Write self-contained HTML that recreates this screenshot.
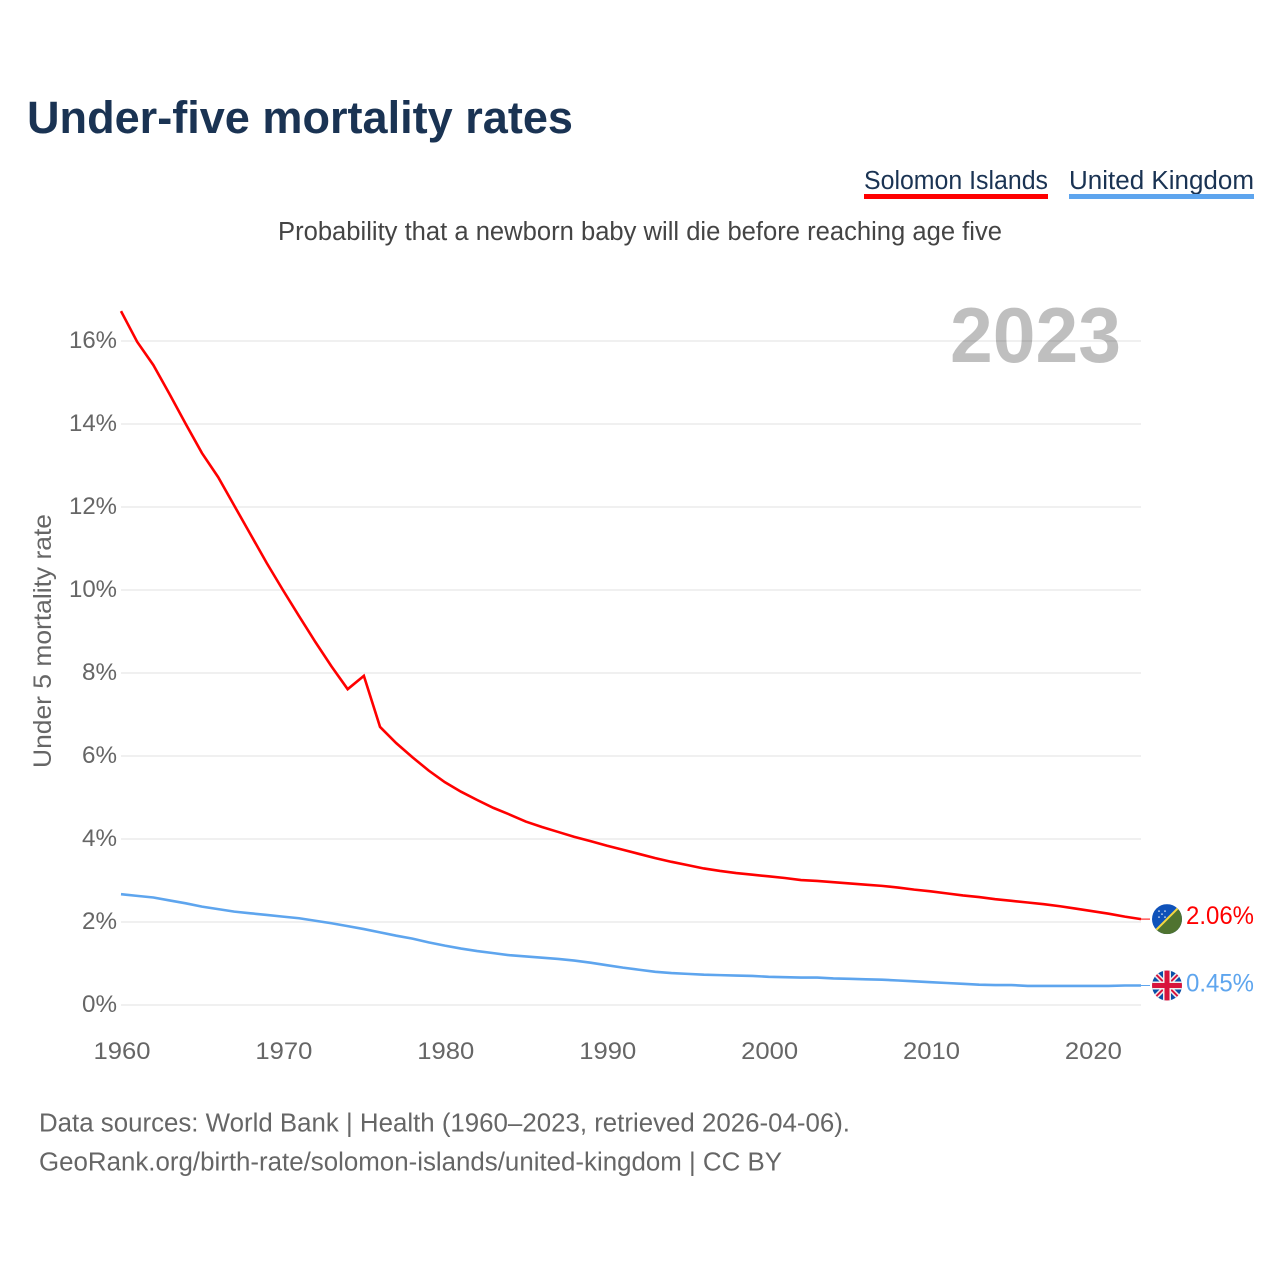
<!DOCTYPE html>
<html lang="en">
<head>
<meta charset="utf-8">
<title>Under-five mortality rates</title>
<style>
html,body{margin:0;padding:0;background:#fff;width:1280px;height:1280px;overflow:hidden}
svg{display:block;font-family:"Liberation Sans",sans-serif}
</style>
</head>
<body>
<svg id="chart" xmlns="http://www.w3.org/2000/svg" width="1280" height="1280" viewBox="0 0 1280 1280">
  <defs>
    <clipPath id="flag-clip"><circle cx="0" cy="0" r="15"></circle></clipPath>
  </defs>
  <rect x="0" y="0" width="1280" height="1280" fill="#ffffff"></rect>

  <text x="27" y="133" font-size="45" font-weight="700" fill="#1a3353" textLength="546" lengthAdjust="spacingAndGlyphs">Under-five mortality rates</text>

  <g>
    <text x="864" y="189" font-size="25.5" fill="#1a3353" textLength="184" lengthAdjust="spacingAndGlyphs">Solomon Islands</text>
    <rect x="864" y="194" width="184" height="5" fill="#ff0000"></rect>
  </g>
  <g>
    <text x="1069" y="189" font-size="25.5" fill="#1a3353" textLength="185" lengthAdjust="spacingAndGlyphs">United Kingdom</text>
    <rect x="1069" y="194" width="185" height="5" fill="#5ea5ee"></rect>
  </g>

  <text x="278" y="240" font-size="25.5" fill="#444444" textLength="724" lengthAdjust="spacingAndGlyphs">Probability that a newborn baby will die before reaching age five</text>

  <g id="grid"></g>
  <g id="y-ticks"></g>
  <g id="x-ticks"></g>

  <text transform="translate(51,768) rotate(-90)" x="0" y="0" font-size="25" fill="#666666" textLength="254" lengthAdjust="spacingAndGlyphs">Under 5 mortality rate</text>

  <text x="950" y="362" font-size="78" font-weight="700" fill="#000000" fill-opacity="0.25" textLength="171" lengthAdjust="spacingAndGlyphs">2023</text>

  <g id="series"></g>

  <g id="flag-solomon">
    <g clip-path="url(#flag-clip)">
      <rect x="-15" y="-15" width="30" height="30" fill="#0f52ba"></rect>
      <polygon points="15,-15 15,15 -15,15" fill="#4f7330"></polygon>
      <line x1="-15" y1="15" x2="15" y2="-15" stroke="#f5d840" stroke-width="2"></line>
      <g fill="#dfe8f5">
        <circle cx="-8" cy="-8" r="0.8"></circle>
        <circle cx="-2" cy="-8" r="0.8"></circle>
        <circle cx="-5" cy="-5" r="0.8"></circle>
        <circle cx="-8" cy="-2" r="0.8"></circle>
        <circle cx="-2" cy="-2" r="0.8"></circle>
      </g>
    </g>
  </g>
  <g id="flag-uk">
    <g clip-path="url(#flag-clip)">
      <rect x="-15" y="-15" width="30" height="30" fill="#0a4fa8"></rect>
      <line x1="-15" y1="-15" x2="15" y2="15" stroke="#f0f0f0" stroke-width="5"></line>
      <line x1="15" y1="-15" x2="-15" y2="15" stroke="#f0f0f0" stroke-width="5"></line>
      <line x1="-15" y1="-15" x2="15" y2="15" stroke="#d8143c" stroke-width="2"></line>
      <line x1="15" y1="-15" x2="-15" y2="15" stroke="#d8143c" stroke-width="2"></line>
      <rect x="-4" y="-15" width="8" height="30" fill="#f0f0f0"></rect>
      <rect x="-15" y="-4" width="30" height="8" fill="#f0f0f0"></rect>
      <rect x="-2.5" y="-15" width="5" height="30" fill="#d8143c"></rect>
      <rect x="-15" y="-2.5" width="30" height="5" fill="#d8143c"></rect>
    </g>
  </g>

  <text id="value-solomon" x="1186" font-size="25" fill="#ff0000" textLength="68" lengthAdjust="spacingAndGlyphs"></text>
  <text id="value-uk" x="1186" font-size="25" fill="#5ea5ee" textLength="68" lengthAdjust="spacingAndGlyphs"></text>

  <text x="39" y="1131.5" font-size="25.5" fill="#666666" textLength="811" lengthAdjust="spacingAndGlyphs">Data sources: World Bank | Health (1960–2023, retrieved 2026-04-06).</text>
  <text x="39" y="1170.5" font-size="25.5" fill="#666666" textLength="743" lengthAdjust="spacingAndGlyphs">GeoRank.org/birth-rate/solomon-islands/united-kingdom | CC BY</text>
</svg>
<script>
const startYear = 1960;
const solomonValues = [16.72,15.98,15.42,14.72,14.00,13.30,12.72,12.03,11.34,10.65,10.00,9.37,8.75,8.16,7.61,7.93,6.70,6.31,5.97,5.65,5.37,5.14,4.94,4.75,4.59,4.42,4.29,4.17,4.05,3.95,3.84,3.74,3.64,3.54,3.45,3.37,3.29,3.23,3.18,3.14,3.10,3.06,3.01,2.99,2.96,2.93,2.90,2.87,2.83,2.78,2.74,2.69,2.64,2.60,2.55,2.51,2.47,2.43,2.38,2.32,2.26,2.20,2.13,2.07];
const ukValues = [2.67,2.63,2.59,2.52,2.45,2.37,2.31,2.25,2.21,2.17,2.13,2.09,2.03,1.97,1.90,1.83,1.75,1.67,1.60,1.51,1.43,1.36,1.30,1.25,1.20,1.17,1.14,1.11,1.07,1.02,0.96,0.90,0.85,0.80,0.77,0.75,0.73,0.72,0.71,0.70,0.68,0.67,0.66,0.66,0.64,0.63,0.62,0.61,0.59,0.57,0.55,0.53,0.51,0.49,0.48,0.48,0.46,0.46,0.46,0.46,0.46,0.46,0.47,0.47];
const yTickValues = [0,2,4,6,8,10,12,14,16];
const xTickYears = [1960,1970,1980,1990,2000,2010,2020];
const solomonLabel = "2.06%";
const ukLabel = "0.45%";

const NS = "http://www.w3.org/2000/svg";
function xScale(year){ return 121 + (year - 1960) * (1141 - 121) / 63; }
function yScale(v){ return 1005 - v * 41.5; }

const gridG = document.getElementById("grid");
const yG = document.getElementById("y-ticks");
const xG = document.getElementById("x-ticks");
const seriesG = document.getElementById("series");

yTickValues.forEach(function(v){
  const line = document.createElementNS(NS, "line");
  
  
  line.setAttribute("x1", xScale(1960));
  line.setAttribute("x2", xScale(2023));
  line.setAttribute("y1", yScale(v));
  line.setAttribute("y2", yScale(v));
  line.setAttribute("stroke", "#f0f0f0");
  line.setAttribute("stroke-width", "2");
  gridG.appendChild(line);

  const t = document.createElementNS(NS, "text");
  
  
  const s = v + "%";
  const w = v >= 10 ? 48 : 35;
  t.setAttribute("x", 117 - w);
  t.setAttribute("y", yScale(v) + 7);
  t.setAttribute("font-size", "24.5");
  t.setAttribute("fill", "#666666");
  t.setAttribute("textLength", w);
  t.setAttribute("lengthAdjust", "spacingAndGlyphs");
  t.textContent = s;
  yG.appendChild(t);
});

xTickYears.forEach(function(y){
  const t = document.createElementNS(NS, "text");
  
  
  t.setAttribute("x", xScale(y) - 27.5);
  t.setAttribute("y", 1059);
  t.setAttribute("font-size", "24.5");
  t.setAttribute("fill", "#666666");
  t.setAttribute("textLength", "57");
  t.setAttribute("lengthAdjust", "spacingAndGlyphs");
  t.textContent = y;
  xG.appendChild(t);
});

function seriesPoints(values){
  return values.map(function(v, i){
    return xScale(startYear + i).toFixed(2) + "," + yScale(v).toFixed(2);
  }).join(" ");
}

const ukLine = document.createElementNS(NS, "polyline");


ukLine.setAttribute("points", seriesPoints(ukValues));
ukLine.setAttribute("fill", "none");
ukLine.setAttribute("stroke", "#5ea5ee");
ukLine.setAttribute("stroke-width", "2.6");
seriesG.appendChild(ukLine);

const solLine = document.createElementNS(NS, "polyline");


solLine.setAttribute("points", seriesPoints(solomonValues));
solLine.setAttribute("fill", "none");
solLine.setAttribute("stroke", "#ff0000");
solLine.setAttribute("stroke-width", "2.6");
seriesG.appendChild(solLine);

const solLast = solomonValues[solomonValues.length - 1];
const ukLast = ukValues[ukValues.length - 1];

const solConn = document.createElementNS(NS, "line");


solConn.setAttribute("x1", xScale(2023));
solConn.setAttribute("x2", 1150);
solConn.setAttribute("y1", yScale(solLast));
solConn.setAttribute("y2", yScale(solLast));
solConn.setAttribute("stroke", "#ff0000");
solConn.setAttribute("stroke-width", "1");
seriesG.appendChild(solConn);

const ukConn = document.createElementNS(NS, "line");


ukConn.setAttribute("x1", xScale(2023));
ukConn.setAttribute("x2", 1150);
ukConn.setAttribute("y1", yScale(ukLast));
ukConn.setAttribute("y2", yScale(ukLast));
ukConn.setAttribute("stroke", "#5ea5ee");
ukConn.setAttribute("stroke-width", "1");
seriesG.appendChild(ukConn);

document.getElementById("flag-solomon").setAttribute("transform", "translate(1167," + yScale(solLast) + ")");
document.getElementById("flag-uk").setAttribute("transform", "translate(1167," + yScale(ukLast) + ")");

const vs = document.getElementById("value-solomon");
vs.textContent = solomonLabel;
vs.setAttribute("y", yScale(solLast) + 5);
const vu = document.getElementById("value-uk");
vu.textContent = ukLabel;
vu.setAttribute("y", yScale(ukLast) + 6);
</script>
</body>
</html>
